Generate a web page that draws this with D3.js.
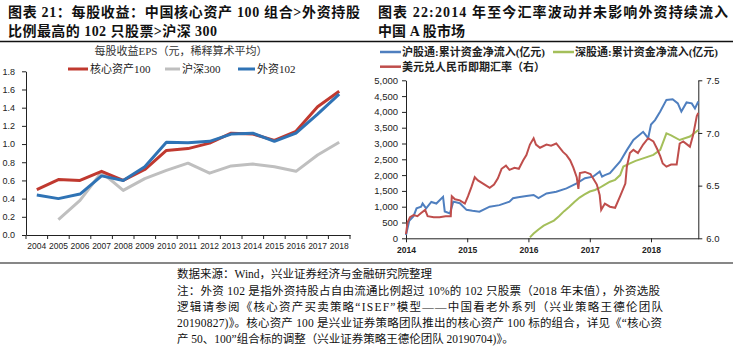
<!DOCTYPE html>
<html>
<head>
<meta charset="utf-8">
<script src="https://cdn.jsdelivr.net/npm/d3@7"></script>
<style>
  body { margin: 0; background: #fff; }
  svg text { font-family: "Liberation Sans", Arial, "Noto Sans CJK SC", sans-serif; }
  .cjk { font-family: "Liberation Serif", "Noto Sans CJK SC", serif !important; }
  .axis path, .axis line { stroke: #222; }
  .axis text { fill: #222; }
</style>
</head>
<body>
<div id="main-chart"></div>
<script>
// left panel: EPS
const years = ["2004","2005","2006","2007","2008","2009","2010","2011","2012","2013","2014","2015","2016","2017","2018"];
const core100 = [0.50,0.61,0.60,0.70,0.60,0.72,0.93,0.95,1.01,1.12,1.11,1.04,1.14,1.41,1.58];
const hs300 = [null,0.17,0.38,0.69,0.49,0.62,0.71,0.79,0.68,0.76,0.78,0.75,0.70,0.88,1.02];
const foreign102 = [0.44,0.40,0.45,0.65,0.60,0.75,1.02,1.015,1.03,1.11,1.12,1.03,1.12,1.33,1.55];
const epsTicks = [0,0.2,0.4,0.6,0.8,1.0,1.2,1.4,1.6,1.8];

// right panel: connect flows (亿元) and USD/CNY
const shConnect = [["2014-01-01",100],["2014-01-20",550],["2014-02-15",700],["2014-03-05",950],["2014-04-01",1000],["2014-04-10",1100],["2014-05-01",950],["2014-06-01",1150],["2014-07-01",1100],["2014-08-10",1310],["2014-08-20",850],["2014-09-20",790],["2014-10-10",1160],["2014-11-18",1110],["2014-12-28",900],["2015-02-01",870],["2015-03-15",840],["2015-05-15",1000],["2015-07-12",1050],["2015-09-10",1160],["2015-10-01",1270],["2015-11-01",1300],["2015-12-20",1340],["2016-02-01",1370],["2016-03-01",1270],["2016-04-18",1420],["2016-06-15",1475],["2016-08-15",1580],["2016-10-15",1740],["2016-12-03",1900],["2017-01-20",1950],["2017-03-01",2110],["2017-03-15",1950],["2017-04-01",2000],["2017-05-01",2060],["2017-07-01",2430],["2017-08-10",2790],["2017-09-18",3110],["2017-11-15",3370],["2017-12-15",3170],["2018-01-01",3600],["2018-01-25",3740],["2018-02-25",4010],["2018-04-03",4380],["2018-05-10",4400],["2018-06-10",4270],["2018-07-01",4010],["2018-08-01",4300],["2018-09-01",4270],["2018-09-20",4110],["2018-10-10",4330]];
const szConnect = [["2016-01-10",30],["2016-02-01",150],["2016-03-01",280],["2016-04-01",400],["2016-05-01",480],["2016-06-01",560],["2016-07-01",700],["2016-08-01",860],["2016-09-01",1000],["2016-10-01",1150],["2016-11-01",1290],["2016-12-01",1390],["2017-01-01",1480],["2017-02-01",1530],["2017-03-01",1600],["2017-04-01",1700],["2017-05-01",1790],["2017-06-01",1850],["2017-07-01",2000],["2017-07-20",2270],["2017-09-01",2380],["2017-10-01",2450],["2017-11-15",2530],["2018-01-15",2640],["2018-02-25",2800],["2018-04-03",3320],["2018-05-01",3260],["2018-06-21",3110],["2018-08-21",3220],["2018-10-10",3430]];
const usdcny = [["2014-01-01",6.04],["2014-01-10",6.15],["2014-01-25",6.20],["2014-02-15",6.22],["2014-03-10",6.21],["2014-04-01",6.24],["2014-04-25",6.27],["2014-05-10",6.21],["2014-06-15",6.20],["2014-07-20",6.20],["2014-08-25",6.21],["2014-09-25",6.21],["2014-10-01",6.40],["2014-10-20",6.37],["2014-11-18",6.36],["2014-12-18",6.33],["2015-01-06",6.40],["2015-01-27",6.49],["2015-02-15",6.58],["2015-03-06",6.55],["2015-04-15",6.51],["2015-05-15",6.48],["2015-06-10",6.51],["2015-07-03",6.57],["2015-07-25",6.66],["2015-08-20",6.69],["2015-09-10",6.65],["2015-10-10",6.67],["2015-11-05",6.66],["2015-12-01",6.74],["2015-12-20",6.79],["2016-01-10",6.89],["2016-02-01",6.95],["2016-02-15",6.89],["2016-03-10",6.86],["2016-04-18",6.89],["2016-05-15",6.88],["2016-06-15",6.90],["2016-07-25",6.82],["2016-08-15",6.79],["2016-09-06",6.74],["2016-09-25",6.67],["2016-10-15",6.58],["2016-10-25",6.47],["2016-11-03",6.62],["2016-12-03",6.63],["2017-01-05",6.61],["2017-02-12",6.51],["2017-03-01",6.41],["2017-03-10",6.27],["2017-04-01",6.33],["2017-05-01",6.30],["2017-06-01",6.29],["2017-07-01",6.40],["2017-08-01",6.52],["2017-08-10",6.68],["2017-08-28",6.81],["2017-09-18",6.84],["2017-10-15",6.81],["2017-11-15",6.89],["2017-12-15",6.95],["2018-01-15",6.92],["2018-02-06",6.85],["2018-02-25",6.78],["2018-03-12",6.71],["2018-04-03",6.68],["2018-05-01",6.70],["2018-06-03",6.70],["2018-06-21",6.90],["2018-07-12",6.92],["2018-08-21",6.87],["2018-09-09",6.98],["2018-10-01",7.16],["2018-10-10",7.19]];
const flowTicks = d3.range(0, 5001, 500);
const fxTicks = [6.0, 6.5, 7.0, 7.5];
const yearTicks = ["2014","2015","2016","2017","2018"];

const width = 733, height = 362;
const svg = d3.select("#main-chart").append("svg")
    .attr("width", width).attr("height", height);

// titles
const titles = [
    [8, 17, "图表 21：每股收益：中国核心资产 100 组合>外资持股", 352],
    [8, 36, "比例最高的 102 只股票>沪深 300", 209],
    [378, 17, "图表 22:2014 年至今汇率波动并未影响外资持续流入", 350],
    [378, 36, "中国 A 股市场", 87]
];
svg.selectAll(".title").data(titles).enter().append("text")
    .attr("class", "title cjk")
    .attr("x", d => d[0]).attr("y", d => d[1])
    .attr("font-size", 14).attr("font-weight", 700).attr("fill", "#111")
    .attr("textLength", d => d[3]).attr("lengthAdjust", "spacing")
    .text(d => d[2]);

svg.append("line").attr("x1", 0).attr("x2", width).attr("y1", 41.5).attr("y2", 41.5)
    .attr("stroke", "#111").attr("stroke-width", 1.5);
svg.append("line").attr("x1", 0).attr("x2", width).attr("y1", 263).attr("y2", 263)
    .attr("stroke", "#111").attr("stroke-width", 1.2);

// ---------- left chart ----------
const x = d3.scaleBand().domain(years).range([26, 350]);
const y = d3.scaleLinear().domain([0, 1.8]).range([235, 71.3]);

svg.append("text").attr("class", "cjk").attr("x", 181).attr("y", 55)
    .attr("text-anchor", "middle").attr("font-size", 11).attr("fill", "#333")
    .text("每股收益EPS（元，稀释算术平均）");

svg.append("g").attr("class", "axis")
    .attr("transform", "translate(26,0)")
    .call(d3.axisLeft(y).tickValues(epsTicks).tickFormat(d3.format(".1f")).tickSize(4).tickSizeOuter(0).tickPadding(7))
    .call(g => g.selectAll("text").attr("font-size", 9).attr("font-family", "Liberation Sans, Arial"));

const xAxis = svg.append("g").attr("class", "axis")
    .attr("transform", "translate(0,235)")
    .call(d3.axisBottom(x).tickSize(0).tickSizeOuter(0).tickPadding(8))
    .call(g => g.selectAll("text").attr("font-size", 8.5).attr("font-family", "Liberation Sans, Arial"));
xAxis.selectAll(".bound").data(years.concat(["end"])).enter().append("line")
    .attr("x1", (d, i) => i < years.length ? x(d) : x(years[years.length - 1]) + x.bandwidth())
    .attr("x2", (d, i) => i < years.length ? x(d) : x(years[years.length - 1]) + x.bandwidth())
    .attr("y1", 0).attr("y2", 4).attr("stroke", "#222");

const epsSeries = [
    { name: "核心资产100", values: core100, color: "#c0392f" },
    { name: "沪深300", values: hs300, color: "#bfbfbf" },
    { name: "外资102", values: foreign102, color: "#2f73b5" }
];
const epsLine = d3.line()
    .defined(d => d[1] != null)
    .x(d => x(d[0]) + x.bandwidth() / 2)
    .y(d => y(d[1]));

[epsSeries[1], epsSeries[0], epsSeries[2]].forEach(s => {
    svg.append("path")
        .datum(years.map((yr, i) => [yr, s.values[i]]))
        .attr("d", epsLine)
        .attr("fill", "none").attr("stroke", s.color).attr("stroke-width", 3)
        .attr("stroke-linejoin", "round");
});

const legL = [[68, 90], [165, 182], [238, 257]];
epsSeries.forEach((s, i) => {
    svg.append("line").attr("x1", legL[i][0]).attr("x2", legL[i][1] - 2)
        .attr("y1", 69).attr("y2", 69).attr("stroke", s.color).attr("stroke-width", 3);
    svg.append("text").attr("class", "cjk").attr("x", legL[i][1]).attr("y", 73)
        .attr("font-size", 11).attr("fill", "#222").text(s.name);
});

// ---------- right chart ----------
const parse = d3.timeParse("%Y-%m-%d");
const xt = d3.scaleTime().domain([parse("2014-01-01"), parse("2018-10-10")]).range([406, 698.3]);
const yFlow = d3.scaleLinear().domain([0, 5000]).range([238.3, 80.3]);
const yFx = d3.scaleLinear().domain([6.0, 7.5]).range([238.3, 80.3]);

svg.append("g").attr("class", "axis").attr("transform", "translate(406,0)")
    .call(d3.axisLeft(yFlow).tickValues(flowTicks).tickSize(4).tickSizeOuter(0).tickPadding(4))
    .call(g => g.selectAll("text").attr("font-size", 9.5));
svg.append("g").attr("class", "axis").attr("transform", "translate(698.3,0)")
    .call(d3.axisRight(yFx).tickValues(fxTicks).tickFormat(d3.format(".1f")).tickSize(4).tickSizeOuter(0).tickPadding(4))
    .call(g => g.selectAll("text").attr("font-size", 9.5));
svg.append("g").attr("class", "axis").attr("transform", "translate(0,238.3)")
    .call(d3.axisBottom(xt).tickValues(yearTicks.map(s => parse(s + "-01-01"))).tickFormat(d3.timeFormat("%Y")).tickSize(4).tickSizeOuter(0).tickPadding(5))
    .call(g => g.selectAll("text").attr("font-size", 8.5).attr("font-weight", 700));

const flowLine = d3.line().x(d => xt(parse(d[0]))).y(d => yFlow(d[1]));
const fxLine = d3.line().x(d => xt(parse(d[0]))).y(d => yFx(d[1]));

svg.append("path").datum(shConnect).attr("d", flowLine)
    .attr("fill", "none").attr("stroke", "#4f7fbf").attr("stroke-width", 2);
svg.append("path").datum(szConnect).attr("d", flowLine)
    .attr("fill", "none").attr("stroke", "#a4bf5a").attr("stroke-width", 2);
svg.append("path").datum(usdcny).attr("d", fxLine)
    .attr("fill", "none").attr("stroke", "#bf4e4c").attr("stroke-width", 2);

const legR = [
    [380, 52, "#4f7fbf", "沪股通:累计资金净流入(亿元)"],
    [553, 52, "#a4bf5a", "深股通:累计资金净流入(亿元)"],
    [380, 66.7, "#bf4e4c", "美元兑人民币即期汇率（右）"]
];
legR.forEach(d => {
    svg.append("line").attr("x1", d[0]).attr("x2", d[0] + 21)
        .attr("y1", d[1]).attr("y2", d[1]).attr("stroke", d[2]).attr("stroke-width", 2.5);
    svg.append("text").attr("class", "cjk").attr("x", d[0] + 22).attr("y", d[1] + 4)
        .attr("font-size", 11).attr("font-weight", 700).attr("fill", "#222").text(d[3]);
});

// ---------- notes ----------
const notes = [
    [274, "数据来源：Wind，兴业证券经济与金融研究院整理", null],
    [290.7, "注：外资 102 是指外资持股占自由流通比例超过 10%的 102 只股票（2018 年末值），外资选股", 483],
    [306.7, "逻辑请参阅《核心资产买卖策略“ISEF”模型——中国看老外系列（兴业策略王德伦团队", 486],
    [322.7, "20190827)》。核心资产 100 是兴业证券策略团队推出的核心资产 100 标的组合，详见《“核心资", 485],
    [338.7, "产 50、100”组合标的调整（兴业证券策略王德伦团队 20190704)》。", null]
];
notes.forEach(n => {
    const t = svg.append("text").attr("class", "cjk").attr("x", 177).attr("y", n[0] + 4)
        .attr("font-size", 11.5).attr("fill", "#111").text(n[1]);
    if (n[2]) t.attr("textLength", n[2]).attr("lengthAdjust", "spacing");
});
</script>
</body>
</html>
